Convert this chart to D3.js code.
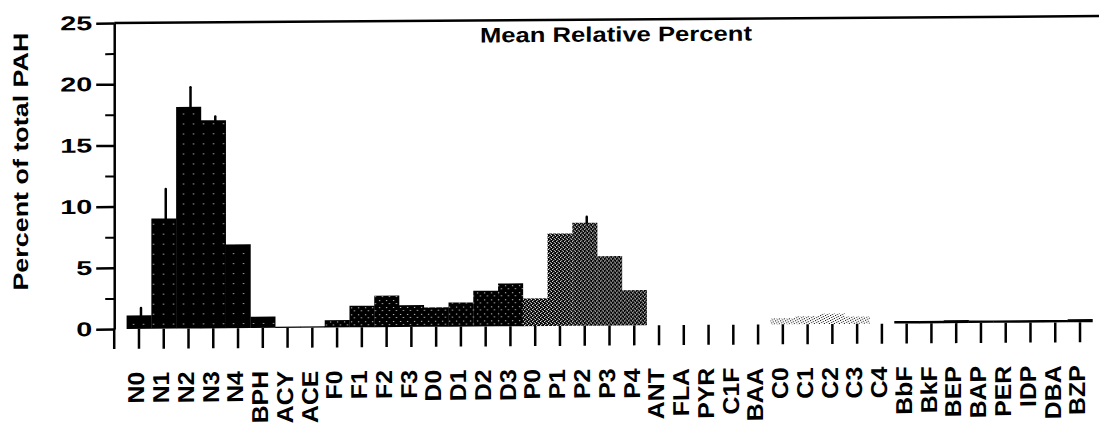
<!DOCTYPE html>
<html>
<head>
<meta charset="utf-8">
<script src="https://cdn.jsdelivr.net/npm/d3@7"></script>
<style>
  body { margin: 0; background: #fff; }
  text { font-family: "Liberation Sans", Arial, Helvetica, sans-serif; fill: #000; }
</style>
</head>
<body>
<script>
var w = 1099;
var h = 429;

// compounds along the x axis
const categories = [
  "N0", "N1", "N2", "N3", "N4", "BPH", "ACY", "ACE",
  "F0", "F1", "F2", "F3", "D0", "D1", "D2", "D3",
  "P0", "P1", "P2", "P3", "P4",
  "ANT", "FLA", "PYR", "C1F", "BAA",
  "C0", "C1", "C2", "C3", "C4",
  "BbF", "BkF", "BEP", "BAP", "PER", "IDP", "DBA", "BZP"
];

// mean relative percent (null = no bar drawn)
const meanPct = [
  1.1, 9.0, 18.1, 17.0, 6.85, 0.92, 0.1, 0.1,
  0.6, 1.76, 2.57, 1.78, 1.58, 1.97, 2.91, 3.5,
  2.26, 7.55, 8.41, 5.67, 2.88,
  null, null, null, null, null,
  0.5, 0.65, 0.85, 0.6, null,
  0.2, 0.2, 0.25, 0.2, 0.2, 0.2, 0.2, 0.25
];

// top of the error bar (null = none)
const errTop = [
  1.7, 11.4, 19.7, 17.3, null, null, null, null,
  null, null, null, null, null, null, null, null,
  null, null, 8.9, null, null,
  null, null, null, null, null,
  null, null, null, null, null,
  null, null, null, null, null, null, null, null
];

// shading group of every bar
const groups = [
  "N", "N", "N", "N", "N", "N", "N", "N",
  "FD", "FD", "FD", "FD", "FD", "FD", "FD", "FD",
  "P", "P", "P", "P", "P",
  "none", "none", "none", "none", "none",
  "C", "C", "C", "C", "C",
  "B", "B", "B", "B", "B", "B", "B", "B"
];

const yTicks = [0, 5, 10, 15, 20, 25];
const yMinor = [2.5, 7.5, 12.5, 17.5, 22.5];

// stipple patterns, like the printed figure
const patterns = {
  N:  { size: 10, bg: "#000", fg: "#fff", dots: [[3, 4]] },
  FD: { size: 7, bg: "#000", fg: "#fff", dots: [[1, 1], [4, 4]] },
  P:  { size: 4, bg: "#000", fg: "#fff", dots: [[0, 0], [2, 1], [1, 3], [3, 2]] },
  C:  { size: 5, bg: "#fff", fg: "#000", dots: [[0, 0], [3, 1], [1, 2], [4, 3], [2, 4]] },
  B:  { size: 4, bg: "#000", fg: "#000", dots: [] }
};

var svg = d3.select("body")
  .append("svg")
  .attr("width", w)
  .attr("height", h);

svg.append("rect").attr("width", w).attr("height", h).attr("fill", "#fff");

const defs = svg.append("defs");
Object.keys(patterns).forEach(k => {
  const p = patterns[k];
  const pat = defs.append("pattern")
    .attr("id", "pat-" + k)
    .attr("patternUnits", "userSpaceOnUse")
    .attr("width", p.size)
    .attr("height", p.size);
  pat.append("rect").attr("width", p.size).attr("height", p.size).attr("fill", p.bg);
  p.dots.forEach(d => {
    pat.append("rect").attr("x", d[0]).attr("y", d[1]).attr("width", 1).attr("height", 1).attr("fill", p.fg);
  });
});

var xScale = d3.scaleBand().domain(categories).range([126.6, 1092.4]).padding(0);
var yScale = d3.scaleLinear().domain([0, 25]).range([329, 23]);
const bw = xScale.bandwidth();
const axisX = xScale(categories[0]) + bw / 2 - xScale.step();

// the scanned page is slightly skewed
const g = svg.append("g")
  .attr("transform", `translate(${axisX},${yScale(0)}) skewY(-0.4) translate(${-axisX},${-yScale(0)})`);

const rows = categories.map((c, i) => ({ c: c, v: meanPct[i], e: errTop[i], grp: groups[i] }));

// bars
g.append("g")
  .selectAll("rect")
  .data(rows.filter(d => d.v !== null))
  .enter()
  .append("rect")
  .attr("x", d => xScale(d.c))
  .attr("width", bw + 0.3)
  .attr("y", d => yScale(d.v))
  .attr("height", d => yScale(0) - yScale(d.v))
  .attr("fill", d => "url(#pat-" + d.grp + ")");

// error bars
g.append("g")
  .selectAll("line")
  .data(rows.filter(d => d.e !== null))
  .enter()
  .append("line")
  .attr("x1", d => xScale(d.c) + bw / 2 + 2)
  .attr("x2", d => xScale(d.c) + bw / 2 + 2)
  .attr("y1", d => yScale(d.v))
  .attr("y2", d => yScale(d.e))
  .attr("stroke", "#000")
  .attr("stroke-width", 2.5)
  .attr("stroke-linecap", "round");

// x ticks (one per compound plus one at the y axis)
var x_axis = d3.axisBottom(xScale).tickSize(20).tickFormat("");
const xg = g.append("g").attr("transform", `translate(0,${yScale(0)})`).call(x_axis);
xg.select(".domain").remove();
xg.selectAll(".tick line").attr("stroke-width", 2.5);
g.append("line")
  .attr("x1", axisX).attr("x2", axisX)
  .attr("y1", yScale(0)).attr("y2", yScale(0) + 20)
  .attr("stroke", "#000").attr("stroke-width", 2.5);

// x labels
g.append("g")
  .selectAll("text")
  .data(categories)
  .enter()
  .append("text")
  .attr("transform", d => `translate(${xScale(d) + bw / 2 - 3},372) rotate(-90) scale(1.08,1)`)
  .attr("text-anchor", "end")
  .attr("dy", "0.36em")
  .attr("font-size", 23)
  .attr("font-weight", "bold")
  .text(d => d);

// y axis
var y_axis = d3.axisLeft(yScale).tickValues(yTicks).tickSize(18).tickSizeOuter(0).tickPadding(4);
const yg = g.append("g").attr("transform", `translate(${axisX},0)`).call(y_axis);
yg.select(".domain").attr("stroke-width", 2.5);
yg.selectAll(".tick line").attr("stroke-width", 2.5);
yg.selectAll(".tick text")
  .attr("font-family", null)
  .attr("font-size", 20)
  .attr("font-weight", "bold")
  .attr("textLength", d => String(d).length * 16)
  .attr("lengthAdjust", "spacingAndGlyphs");

var y_minor = d3.axisLeft(yScale).tickValues(yMinor).tickSize(9).tickSizeOuter(0).tickFormat("");
const ym = g.append("g").attr("transform", `translate(${axisX},0)`).call(y_minor);
ym.select(".domain").remove();
ym.selectAll(".tick line").attr("stroke-width", 2);

// top frame line
g.append("line")
  .attr("x1", axisX).attr("x2", w + 20)
  .attr("y1", yScale(25)).attr("y2", yScale(25))
  .attr("stroke", "#000").attr("stroke-width", 2.5);

// title inside the plot
g.append("text")
  .attr("x", 480)
  .attr("y", 45)
  .attr("font-size", 21)
  .attr("font-weight", "bold")
  .attr("textLength", 272)
  .attr("lengthAdjust", "spacingAndGlyphs")
  .text("Mean Relative Percent");

// y axis title
g.append("text")
  .attr("transform", `translate(28,${(yScale(25) + yScale(0)) / 2 - 15}) rotate(-90)`)
  .attr("text-anchor", "middle")
  .attr("font-size", 21)
  .attr("font-weight", "bold")
  .attr("textLength", 258)
  .attr("lengthAdjust", "spacingAndGlyphs")
  .text("Percent of total PAH");
</script>
</body>
</html>
